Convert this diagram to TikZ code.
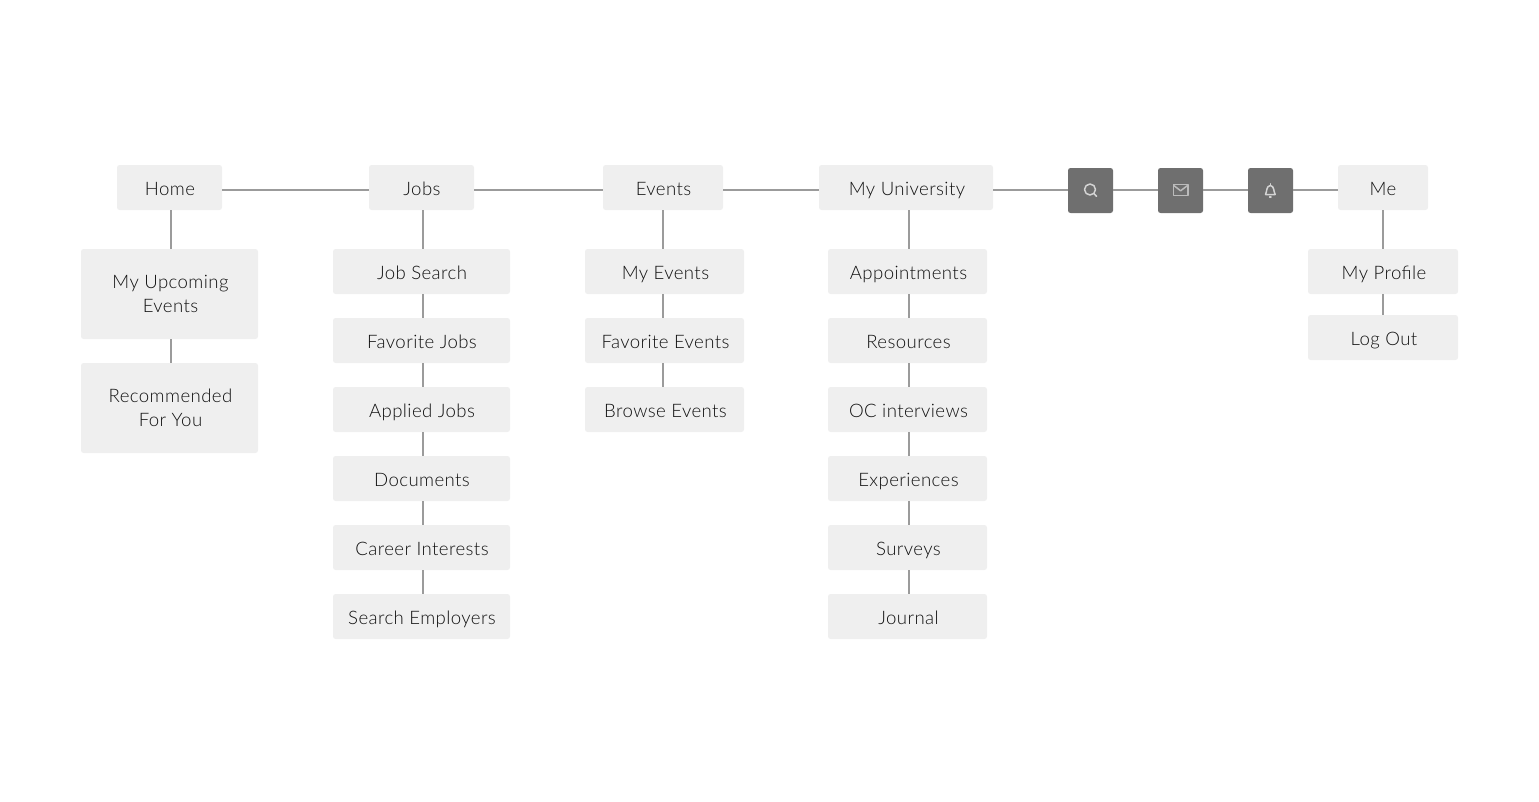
\documentclass[tikz,border=0pt]{standalone}
\usepackage{fontspec}
\setmainfont{Lato}[UprightFont=* Light,LetterSpace=2.2]
\definecolor{boxfill}{HTML}{EFEFEF}
\definecolor{linkc}{HTML}{9B9B9B}
\definecolor{iconfill}{HTML}{6F6F6F}
\definecolor{iconline}{HTML}{D4D4D4}
\definecolor{inkc}{HTML}{111111}
\tikzset{
  x=1pt,y=-1pt,
  menubox/.style={fill=boxfill,rounded corners=2.5pt,inner sep=0pt,minimum height=45pt,align=center,
    text=inkc,font=\fontsize{18.6}{24}\selectfont,text height=15pt,text depth=0pt},
  tallbox/.style={menubox,minimum width=177pt,minimum height=90pt,text height=37pt,text depth=1pt},
  iconbox/.style={fill=iconfill,rounded corners=2.5pt,inner sep=0pt,minimum width=45pt,minimum height=45pt},
  link/.style={draw=linkc,line width=2pt},
  glyph/.style={draw=iconline,line width=1.5pt,line cap=round,line join=round},
}
\newcommand{\shifted}[2]{\hspace*{#1pt}#2}
\begin{document}
\begin{tikzpicture}
\useasboundingbox (0,0) rectangle (1539,801);
\path
 node[menubox,minimum width=105pt] (home) at (169.5,187.5) {\shifted{1}{Home}}
 node[menubox,minimum width=105pt] (jobs) at (421.5,187.5) {\shifted{1}{Jobs}}
 node[menubox,minimum width=120pt] (events) at (663,187.5) {\shifted{1}{Events}}
 node[menubox,minimum width=174pt] (myuni) at (906,187.5) {\shifted{2}{My University}}
 node[iconbox] (search) at (1090.5,190.5) {}
 node[iconbox] (mail) at (1180.5,190.5) {}
 node[iconbox] (bell) at (1270.5,190.5) {}
 node[menubox,minimum width=90pt] (me) at (1383,187.5) {Me}
 node[tallbox] (upcoming) at (169.5,294) {\shifted{2}{My Upcoming}\\\shifted{2}{Events}}
 node[tallbox] (recommended) at (169.5,408) {\shifted{2}{Recommended}\\\shifted{2}{For You}};
\foreach \nm/\cy/\tx in {jsearch/271.5/Job Search,favjobs/340.5/Favorite Jobs,applied/409.5/Applied Jobs,documents/478.5/Documents,career/547.5/Career Interests,employers/616.5/Search Employers}
  \node[menubox,minimum width=177pt] (\nm) at (421.5,\cy) {\shifted{1}{\tx}};
\foreach \nm/\cy/\tx in {myevents/271.5/My Events,favevents/340.5/Favorite Events,browse/409.5/Browse Events}
  \node[menubox,minimum width=159pt] (\nm) at (664.5,\cy) {\shifted{2}{\tx}};
\foreach \nm/\cy/\tx in {appoint/271.5/Appointments,resources/340.5/Resources,oc/409.5/OC interviews,experiences/478.5/Experiences,surveys/547.5/Surveys,journal/616.5/Journal}
  \node[menubox,minimum width=159pt] (\nm) at (907.5,\cy) {\shifted{2}{\tx}};
\node[menubox,minimum width=150pt] (profile) at (1383,271.5) {\shifted{2}{My Profile}};
\node[menubox,minimum width=150pt] (logout) at (1383,337.5) {\shifted{2}{Log Out}};
% top row
\foreach \a/\b/\ya/\yb in {home/jobs/2/2,jobs/events/2/2,events/myuni/2/2,myuni/search/2/-1,search/mail/-1/-1,mail/bell/-1/-1,bell/me/-1/2}
  \draw[link] ([yshift=-\ya pt]\a.east) -- ([yshift=-\yb pt]\b.west);
% vertical links
\draw[link] ([xshift=1.5pt]home.south) -- ([xshift=1.5pt]upcoming.north);
\draw[link] ([xshift=1.5pt]upcoming.south) -- ([xshift=1.5pt]recommended.north);
\draw[link] ([xshift=1.5pt]jobs.south) -- ([xshift=1.5pt]jsearch.north);
\foreach \a/\b in {jsearch/favjobs,favjobs/applied,applied/documents,documents/career,career/employers}
  \draw[link] ([xshift=1.5pt]\a.south) -- ([xshift=1.5pt]\b.north);
\draw[link] (events.south) -- ([xshift=-1.5pt]myevents.north);
\foreach \a/\b in {myevents/favevents,favevents/browse}
  \draw[link] ([xshift=-1.5pt]\a.south) -- ([xshift=-1.5pt]\b.north);
\draw[link] ([xshift=3pt]myuni.south) -- ([xshift=1.5pt]appoint.north);
\foreach \a/\b in {appoint/resources,resources/oc,oc/experiences,experiences/surveys,surveys/journal}
  \draw[link] ([xshift=1.5pt]\a.south) -- ([xshift=1.5pt]\b.north);
\draw[link] (me.south) -- (profile.north);
\draw[link] (profile.south) -- (logout.north);
% icons
\draw[glyph] (1090,189.5) circle (5.5);
\draw[glyph] (1094,193.6) -- (1096.6,196.4);
\draw[glyph,draw=iconline!75!iconfill,line width=1.8pt] (1173.5,184.5) rectangle (1187.8,195.5);
\draw[glyph,draw=iconline!75!iconfill] (1173.8,185.5) -- (1180.6,190.8) -- (1187.5,185.5);
\draw[glyph] (1265.5,194.5) .. controls (1267,192) and (1266,186) .. (1270.3,185.5)
  .. controls (1274.5,186) and (1273.5,192) .. (1275.2,194.5) -- cycle;
\draw[glyph] (1270.3,183.8) -- (1270.3,185.2);
\draw[glyph] (1269.6,197) -- (1271,197);
\end{tikzpicture}
\end{document}
